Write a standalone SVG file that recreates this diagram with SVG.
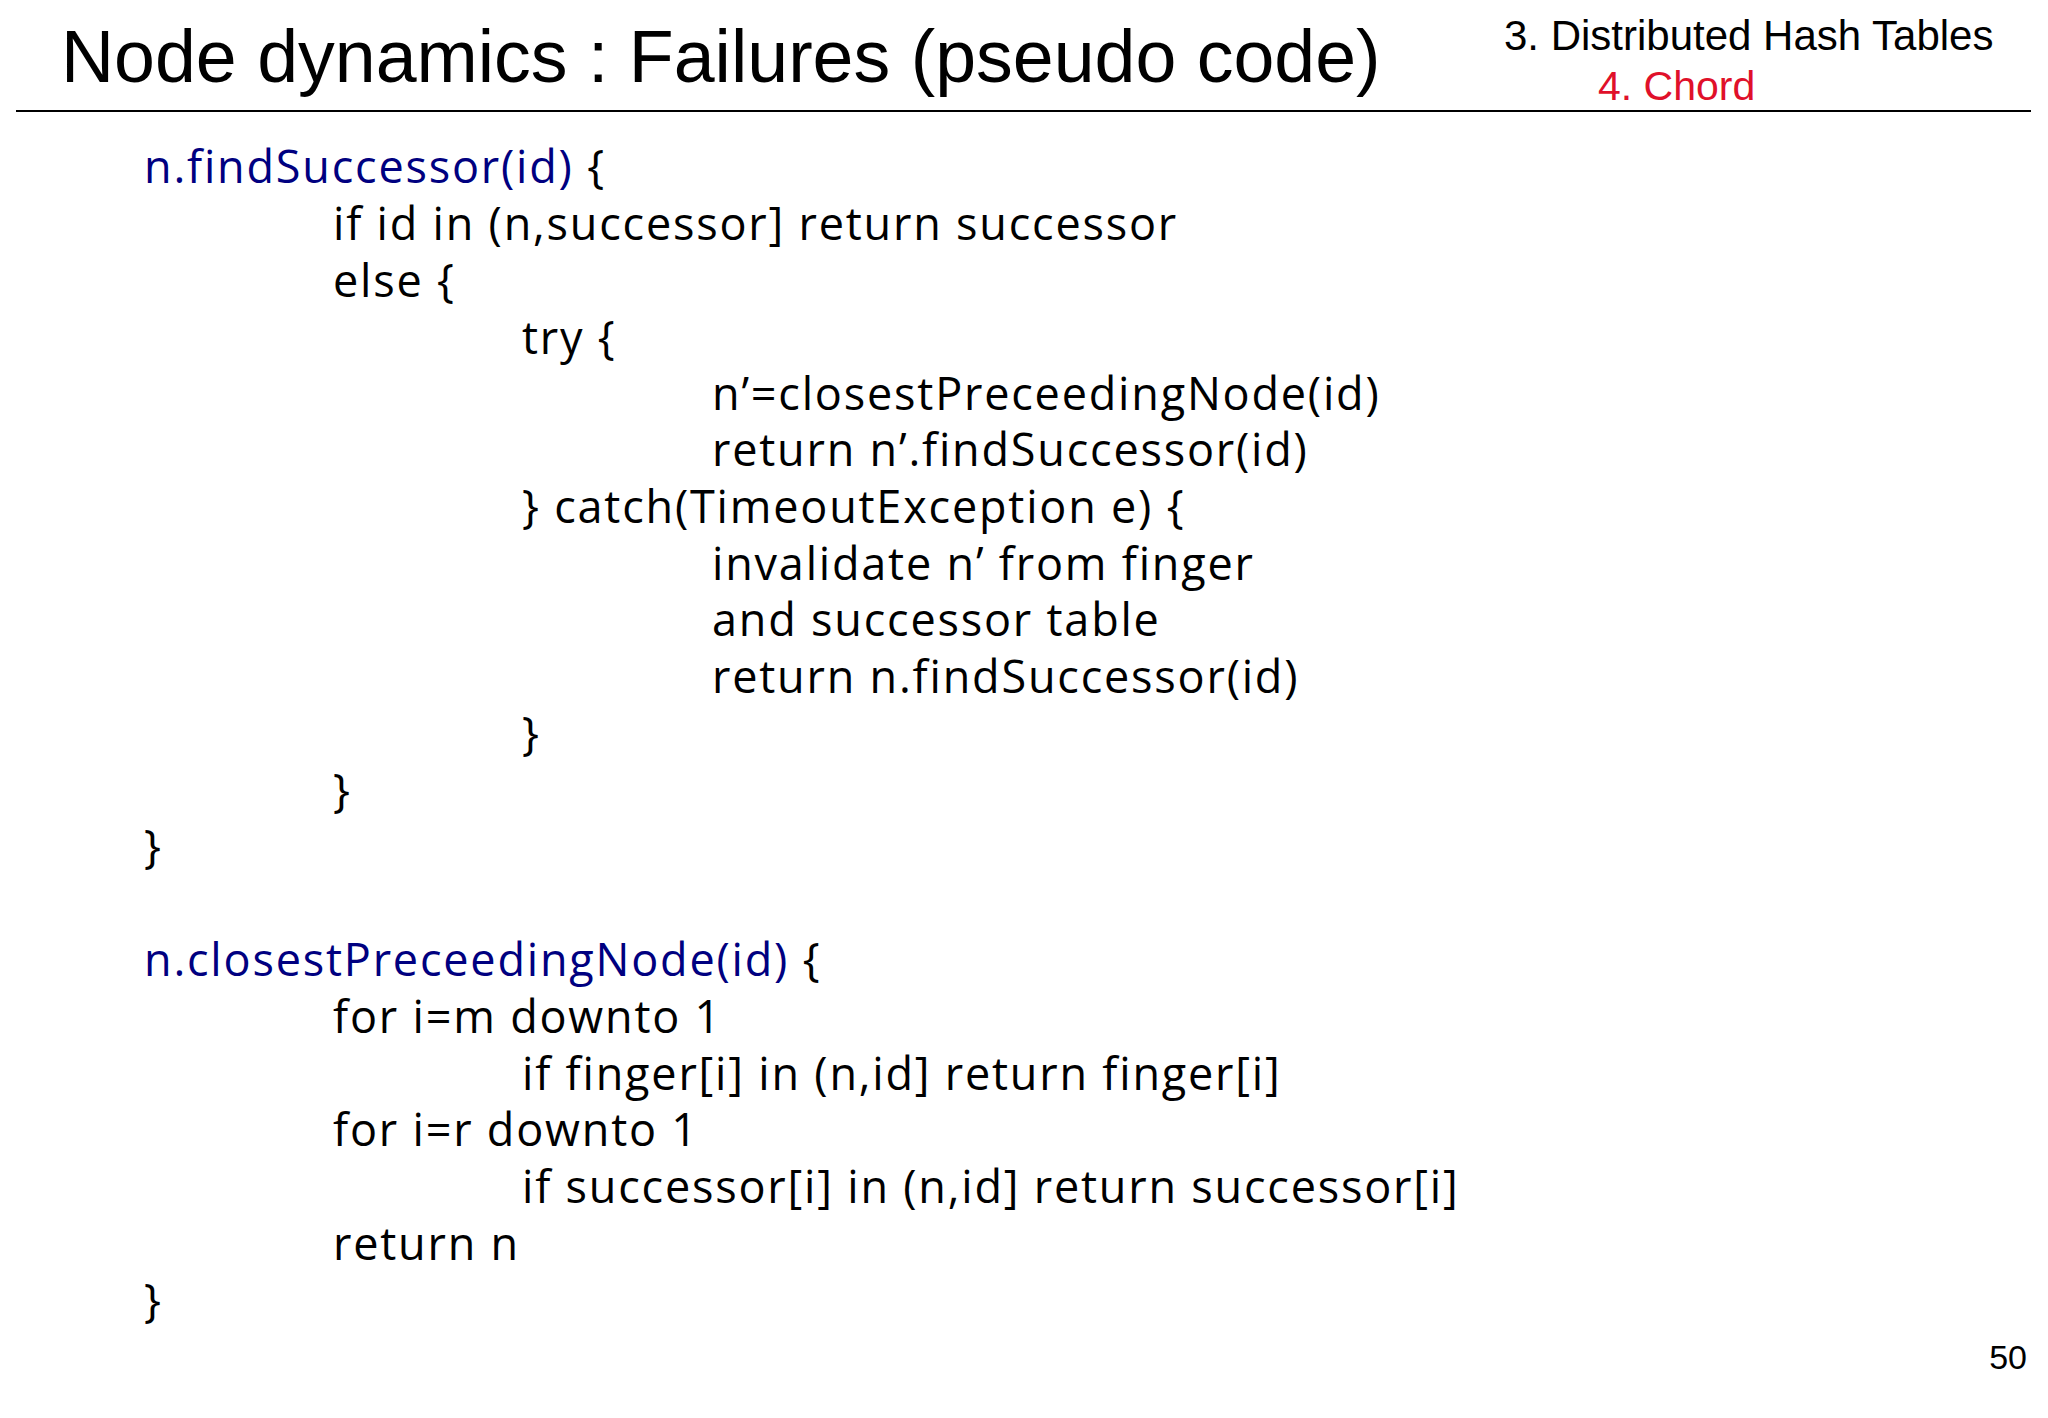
<svg xmlns="http://www.w3.org/2000/svg" width="2048" height="1418" viewBox="0 0 2048 1418">
<style>
.t{font-family:"Liberation Sans",Arial,sans-serif;fill:#000}
.c{font-family:"Open Sans","DejaVu Sans",sans-serif;font-size:45px;letter-spacing:1.8px;fill:#000}
.b{fill:#000080}
</style>
<rect width="2048" height="1418" fill="#fff"/>
<text class="t" x="61" y="82" font-size="73.5">Node dynamics : Failures (pseudo code)</text>
<text class="t" x="1504" y="50" font-size="42">3. Distributed Hash Tables</text>
<text class="t" x="1598" y="100" font-size="41" style="fill:#e0102a">4. Chord</text>
<line x1="16" y1="111" x2="2031" y2="111" stroke="#000" stroke-width="2"/>
<g id="code">
<text class="c" x="144" y="183"><tspan class="b">n.findSuccessor(id)</tspan> {</text>
<text class="c" x="333" y="240">if id in (n,successor]  return successor</text>
<text class="c" x="333" y="297">else {</text>
<text class="c" x="522" y="354">try {</text>
<text class="c" x="712" y="410">n’=closestPreceedingNode(id)</text>
<text class="c" x="712" y="466">return n’.findSuccessor(id)</text>
<text class="c" x="522" y="523">} catch(TimeoutException e) {</text>
<text class="c" x="712" y="580">invalidate n’ from finger</text>
<text class="c" x="712" y="636">and successor table</text>
<text class="c" x="712" y="693">return n.findSuccessor(id)</text>
<text class="c" x="522" y="750">}</text>
<text class="c" x="333" y="807">}</text>
<text class="c" x="144" y="863">}</text>
<text class="c" x="144" y="976"><tspan class="b">n.closestPreceedingNode(id)</tspan> {</text>
<text class="c" x="333" y="1033">for i=m downto 1</text>
<text class="c" x="522" y="1090">if finger[i] in (n,id] return finger[i]</text>
<text class="c" x="333" y="1146">for i=r downto 1</text>
<text class="c" x="522" y="1203">if successor[i] in (n,id] return successor[i]</text>
<text class="c" x="333" y="1260">return n</text>
<text class="c" x="144" y="1317">}</text>
</g>
<text class="t" x="2027" y="1369" font-size="34" text-anchor="end">50</text>
</svg>
